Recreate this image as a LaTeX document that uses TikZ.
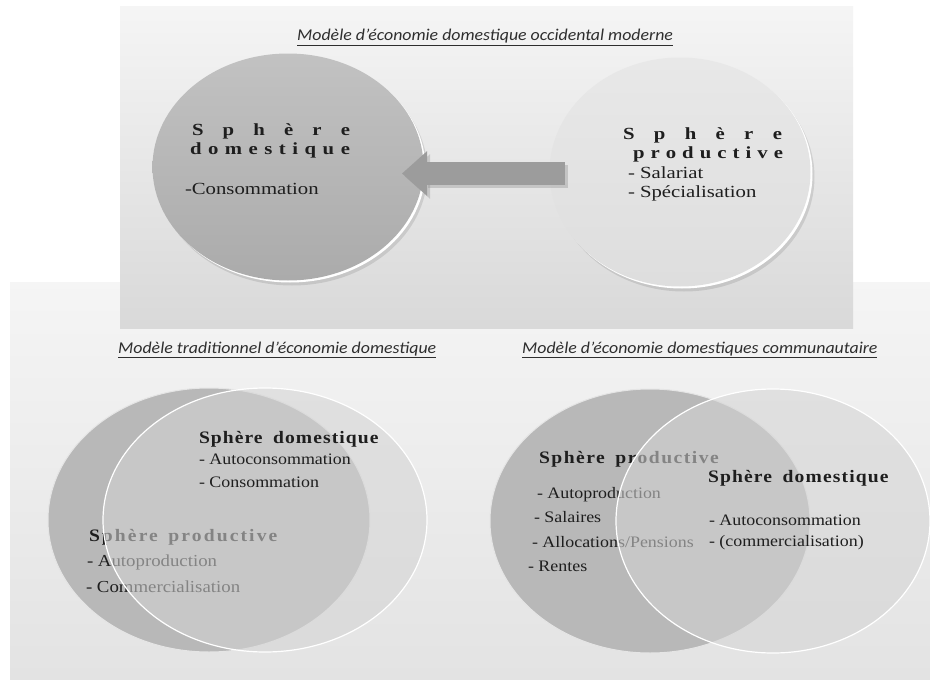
\documentclass[tikz,border=0pt]{standalone}
\usepackage{fontspec}
\setmainfont{Liberation Serif}
\newfontfamily\topf[FakeStretch=1.22]{Liberation Serif}
\newfontfamily\botf[FakeStretch=1.12]{Liberation Serif}
\newfontfamily\titf[FakeStretch=1.08]{Carlito}
\usetikzlibrary{shapes.geometric,arrows.meta}
\definecolor{txt}{HTML}{1E1E1E}
\definecolor{ttl}{HTML}{2E2E2E}
\tikzset{
  lbl/.style={anchor=base west,inner sep=0pt,outer sep=0pt,text=txt},
  toptxt/.style={lbl,font=\topf\fontsize{17}{20}\selectfont},
  toptxtb/.style={lbl,font=\topf\bfseries\fontsize{17}{20}\selectfont},
  bottxt/.style={lbl,font=\botf\fontsize{16}{23}\selectfont},
  bottxtb/.style={lbl,font=\botf\bfseries\fontsize{17.5}{23}\selectfont},
  ttltxt/.style={anchor=base west,inner sep=0pt,text=ttl,font=\titf\itshape\fontsize{16.5}{20}\selectfont},
  sph/.style={ellipse,inner sep=0pt,outer sep=0pt},
  darksph/.style={sph,top color=black!24,bottom color=black!33},
  lightsph/.style={sph,top color=black!9,bottom color=black!13},
  shadowsph/.style={sph,fill=black,opacity=0.10},
  rimsph/.style={sph,fill=white},
  venndark/.style={sph,fill=black!28,draw=black!10,line width=1pt},
  vennlight/.style={sph,fill=black!17,fill opacity=0.56,draw=white,line width=1.2pt},
}
\newcommand{\spaced}[2]{{\addfontfeature{LetterSpace=#1}#2}}
\begin{document}
\begin{tikzpicture}[x=1pt,y=-1pt]
\useasboundingbox (0,0) rectangle (930,680);
\fill[white] (0,0) rectangle (930,680);
% bottom panel
\shade[top color=black!4,bottom color=black!11] (10,282) rectangle (930,680);
% top panel
\shade[top color=black!4,bottom color=black!15] (120,6) rectangle (853,328);

% ---------- top diagram ----------
\node[ttltxt] (t1) at (297,41) {\underline{Modèle d’économie domestique occidental moderne}};

\node[shadowsph,minimum width=271pt,minimum height=227pt] (domTs) at (292,172) {};
\node[rimsph,minimum width=271pt,minimum height=227pt] (domTr) at (290,169) {};
\node[darksph,minimum width=271pt,minimum height=227pt] (domT) at (288,167) {};

\node[shadowsph,minimum width=261pt,minimum height=229pt] (prodTs) at (684,177) {};
\node[rimsph,minimum width=261pt,minimum height=229pt] (prodTr) at (682,174) {};
\node[lightsph,minimum width=261pt,minimum height=229pt] (prodT) at (680,172) {};

\coordinate (arrS) at (565,173.5);
\coordinate (arrE) at (402,173.5);
\draw[black!45,opacity=0.35,line width=23pt,-{Triangle[length=25pt,width=43pt]}] ([shift={(3,3)}]arrS) -- ([shift={(3,3)}]arrE);
\draw[black!39,line width=23pt,-{Triangle[length=25pt,width=43pt]}] (arrS) -- (arrE);

\node[toptxtb] (d1) at (192,135) {\makebox[158pt][s]{S\hfill p\hfill h\hfill è\hfill r\hfill e}};
\node[toptxtb] (d2) at (190,154) {\makebox[160pt][s]{d\hfill o\hfill m\hfill e\hfill s\hfill t\hfill i\hfill q\hfill u\hfill e}};
\node[toptxt] (d3) at (185,194) {-Consommation};

\node[toptxtb] (p1) at (623,139) {\makebox[159pt][s]{S\hfill p\hfill h\hfill è\hfill r\hfill e}};
\node[toptxtb] (p2) at (633,158) {\makebox[150pt][s]{p\hfill r\hfill o\hfill d\hfill u\hfill c\hfill t\hfill i\hfill v\hfill e}};
\node[toptxt] (p3) at (628,178) {- Salariat};
\node[toptxt] (p4) at (628,197) {- Spécialisation};

% ---------- bottom left diagram ----------
\node[ttltxt] (t2) at (118,353) {\underline{Modèle traditionnel d’économie domestique}};
\node[venndark,minimum width=322pt,minimum height=264pt] (prodL) at (209,520) {};
\node[bottxtb] (lp1) at (89,541) {\spaced{12}{Sphère\hspace{0.6em}productive}};
\node[bottxt,font=\botf\fontsize{16.8}{23}\selectfont] (lp2) at (87,566) {- Autoproduction};
\node[bottxt,font=\botf\fontsize{16.8}{23}\selectfont] (lp3) at (86,592) {- Commercialisation};
\node[vennlight,minimum width=324pt,minimum height=264pt] (domL) at (265,520) {};
\node[bottxtb] (ld1) at (199,443) {\spaced{6}{Sphère\hspace{0.6em}domestique}};
\node[bottxt] (ld2) at (199,464) {- Autoconsommation};
\node[bottxt] (ld3) at (199,487) {- Consommation};

% ---------- bottom right diagram ----------
\node[ttltxt] (t3) at (522,353) {\underline{Modèle d’économie domestiques communautaire}};
\node[venndark,minimum width=320pt,minimum height=264pt] (prodR) at (650,521) {};
\node[bottxtb] (rp1) at (539,463) {\spaced{8.5}{Sphère\hspace{0.6em}productive}};
\node[bottxt] (rp2) at (537,498) {- Autoproduction};
\node[bottxt] (rp3) at (534,522) {- Salaires};
\node[bottxt] (rp4) at (532,547) {- Allocations/Pensions};
\node[bottxt] (rp5) at (528,571) {- Rentes};
\node[vennlight,minimum width=314pt,minimum height=264pt] (domR) at (773,521) {};
\node[bottxtb] (rd1) at (708,482) {\spaced{6.5}{Sphère\hspace{0.6em}domestique}};
\node[bottxt] (rd2) at (709,525) {- Autoconsommation};
\node[bottxt] (rd3) at (709,546) {- (commercialisation)};
\end{tikzpicture}
\end{document}
